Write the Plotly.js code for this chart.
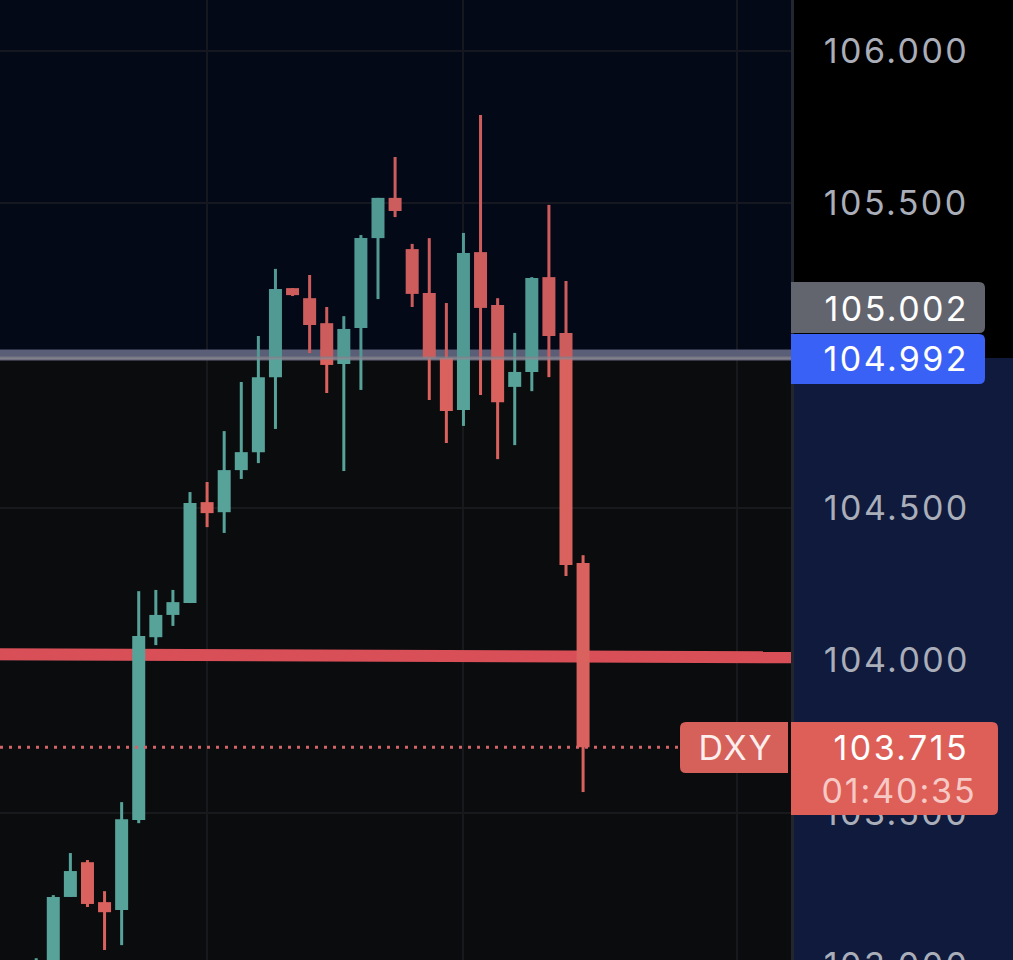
<!DOCTYPE html>
<html>
<head>
<meta charset="utf-8">
<script src="https://cdn.plot.ly/plotly-3.0.1.min.js"></script>
<style>
html,body{margin:0;padding:0;background:#0b0c0e;overflow:hidden;width:1013px;height:960px}
#c{width:1013px;height:1000px}
.ytick text{letter-spacing:2.4px}
.annotation text{letter-spacing:2.4px}
.annotation[data-index="2"] text{letter-spacing:1.7px}
.annotation[data-index="4"] text{letter-spacing:1.9px}
</style>
</head>
<body>
<div id="c"></div>
<script>
const index = Array.from({length: 33}, (_, i) => i);
const open  = [102.950,102.935,103.224,103.338,103.207,103.181,103.476,104.076,104.149,104.188,104.519,104.486,104.624,104.683,104.929,105.221,105.188,105.106,104.972,105.090,105.385,105.517,105.349,105.205,104.992,104.821,105.339,105.166,104.897,104.946,105.257,105.074,104.319];
const high  = [103.023,103.230,103.368,103.345,103.243,103.535,104.227,104.231,104.231,104.552,104.585,104.752,104.913,105.064,105.284,105.221,105.264,105.159,105.129,105.395,105.517,105.651,105.366,105.385,105.172,105.402,105.789,105.188,105.074,105.257,105.494,105.244,104.345];
const low   = [102.930,102.900,103.224,103.191,103.050,103.066,103.466,104.050,104.113,104.188,104.437,104.418,104.595,104.647,104.759,105.195,105.008,104.877,104.621,104.887,105.185,105.454,105.159,104.854,104.713,104.769,104.870,104.660,104.706,104.883,104.929,104.277,103.568];
const close = [103.010,103.224,103.309,103.201,103.174,103.479,104.080,104.149,104.191,104.516,104.483,104.624,104.683,104.929,105.218,105.198,105.100,104.969,105.087,105.385,105.517,105.474,105.202,104.992,104.818,105.336,105.156,104.847,104.946,105.254,105.064,104.313,103.715];

const priceTicks = [103, 103.5, 104, 104.5, 105.5, 106];
const gridIndex = [10, 25, 41];
const levelLine = {x: [-2.118, 44.166], y: [104.020, 104.010]};
const lastPrice = 103.715, bidPrice = 105.002, askPrice = 104.992;
const W = 1013, H = 1000, PW = 791;
const xRange = [-2.118, 44.166], yRange = [102.886, 106.166];

const GREEN = '#57a39a', RED = '#da625e';
const colors = close.map((c, i) => c >= open[i] ? GREEN : RED);

const fx = px => px / PW;
const fy = py => 1 - py / H;
function roundBox(x0, y0, x1, y1, rl, rr, color) {
  const P = (x, y) => fx(x).toFixed(5) + ',' + fy(y).toFixed(5);
  const path = 'M' + P(x0 + rl, y0) + ' L' + P(x1 - rr, y0) + ' Q' + P(x1, y0) + ' ' + P(x1, y0 + rr) +
    ' L' + P(x1, y1 - rr) + ' Q' + P(x1, y1) + ' ' + P(x1 - rr, y1) +
    ' L' + P(x0 + rl, y1) + ' Q' + P(x0, y1) + ' ' + P(x0, y1 - rl) +
    ' L' + P(x0, y0 + rl) + ' Q' + P(x0, y0) + ' ' + P(x0 + rl, y0) + ' Z';
  return {type: 'path', xref: 'paper', yref: 'paper', path, fillcolor: color, line: {width: 0}, layer: 'above'};
}
function label(text, xpx, ypx, anchor, color, size) {
  return {xref: 'paper', yref: 'paper', x: fx(xpx), y: fy(ypx), text, xanchor: anchor, yanchor: 'middle',
    showarrow: false, font: {family: 'Inter, sans-serif', size: size || 34, color}};
}

const data = [
  {type: 'bar', x: index, base: low, y: high.map((h, i) => h - low[i]), width: 0.176,
   marker: {color: colors, line: {width: 0}}, hoverinfo: 'skip'},
  {type: 'bar', x: index, base: open.map((o, i) => Math.min(o, close[i])),
   y: open.map((o, i) => Math.abs(close[i] - o)), width: 0.761,
   marker: {color: colors, line: {width: 0}}, hoverinfo: 'skip'},
  {type: 'scatter', mode: 'lines', x: xRange, y: [askPrice, askPrice],
   line: {color: 'rgba(140,138,146,0.75)', width: 3}, hoverinfo: 'skip'},
  {type: 'scatter', mode: 'lines', x: [xRange[0], 37.7], y: [lastPrice, lastPrice],
   line: {color: '#d2646a', width: 3, dash: '3px,6px'}, hoverinfo: 'skip'}
];

const layout = {
  width: W, height: H, autosize: false,
  margin: {l: 0, r: W - PW, t: 0, b: 0, pad: 0, autoexpand: false},
  paper_bgcolor: '#0b0c0e', plot_bgcolor: 'rgba(0,0,0,0)',
  barmode: 'overlay', showlegend: false,
  xaxis: {range: xRange, tickvals: gridIndex, showticklabels: false, ticks: '', showgrid: true,
    gridcolor: '#18191d', gridwidth: 2, zeroline: false, showline: false, fixedrange: true},
  yaxis: {range: yRange, side: 'right', tickvals: priceTicks, tickformat: '.3f', ticks: '', ticklen: 0,
    ticklabelstandoff: 23, showgrid: true, gridcolor: '#18191d', gridwidth: 2, zeroline: false,
    showline: true, linecolor: '#23262f', linewidth: 3, fixedrange: true,
    tickfont: {family: 'Inter, sans-serif', size: 34, color: '#aaaeb9'}},
  shapes: [
    {type: 'rect', xref: 'paper', yref: 'y', x0: 0, x1: 1, y0: askPrice, y1: yRange[1], fillcolor: '#050916', line: {width: 0}, layer: 'below'},
    {type: 'rect', xref: 'paper', yref: 'y', x0: 1, x1: W / PW, y0: askPrice, y1: yRange[1], fillcolor: '#000000', line: {width: 0}, layer: 'below'},
    {type: 'rect', xref: 'paper', yref: 'y', x0: 1, x1: W / PW, y0: yRange[0], y1: askPrice, fillcolor: '#0f1a3d', line: {width: 0}, layer: 'below'},
    {type: 'line', xref: 'x', yref: 'y', x0: xRange[0], x1: xRange[1], y0: bidPrice, y1: bidPrice, line: {color: '#60637a', width: 11}, layer: 'between'},
    {type: 'line', xref: 'x', yref: 'y', x0: levelLine.x[0], x1: levelLine.x[1], y0: levelLine.y[0], y1: levelLine.y[1], line: {color: '#d94f58', width: 12}, layer: 'between'},
    {type: 'rect', xref: 'paper', yref: 'y', x0: 0, x1: 1, y0: askPrice, y1: yRange[1], fillcolor: 'rgba(0,15,60,0.06)', line: {width: 0}, layer: 'above'},
    roundBox(791, 282, 985, 333, 0, 6, '#62646e'),
    roundBox(791, 334, 985, 384, 0, 6, '#3a61f6'),
    roundBox(680, 722, 788, 773, 6, 0, '#d6605a'),
    roundBox(791, 722, 998, 815, 0, 6, '#dd5f58')
  ],
  annotations: [
    label(bidPrice.toFixed(3), 963, 308, 'right', '#ffffff'),
    label(askPrice.toFixed(3), 963, 358, 'right', '#ffffff'),
    label('DXY', 736, 747, 'center', '#fbeeed'),
    label(lastPrice.toFixed(3), 963, 747, 'right', '#ffffff'),
    label('01:40:35', 971, 790, 'right', '#f6c9c5')
  ]
};
Plotly.newPlot('c', data, layout, {displayModeBar: false, staticPlot: true});
</script>
</body>
</html>
